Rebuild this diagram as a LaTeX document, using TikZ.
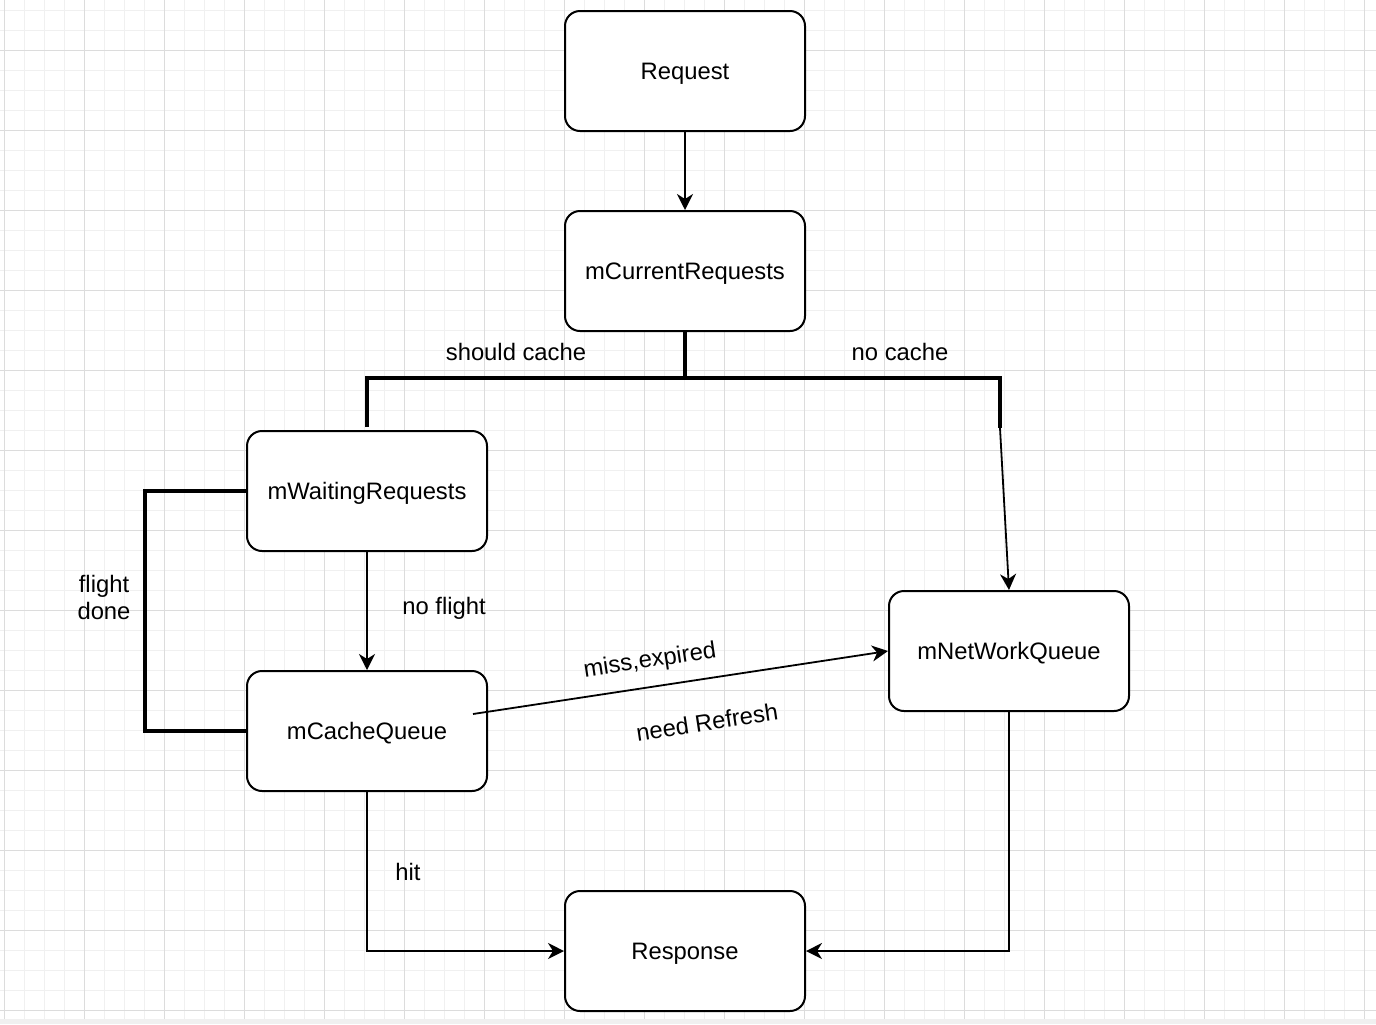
\documentclass[tikz,border=0pt]{standalone}
\usepackage{fontspec}
\setmainfont{Liberation Sans}
\usetikzlibrary{positioning,arrows.meta}
\definecolor{gridminor}{HTML}{F0F0F0}
\definecolor{gridmajor}{HTML}{DCDCDC}
\tikzset{
  box/.style={draw,line width=1pt,rounded corners=7.5pt,fill=white,minimum width=120pt,minimum height=60pt,inner sep=0pt,text depth=0pt},
  link/.style={line width=0.9pt,-{Stealth[length=8pt,width=8pt,inset=2.5pt]}},
  trunk/.style={line width=2pt},
}

\begin{document}
\begin{tikzpicture}[x=0.5pt,y=-0.5pt,font=\fontsize{11.9}{13.5}\selectfont]
\useasboundingbox (0,0) rectangle (1376,1024);
% grid
\foreach \k in {0,...,68} \draw[gridminor,line width=0.5pt] (4+20*\k,0) -- (4+20*\k,1024);
\foreach \k in {0,...,50} \draw[gridminor,line width=0.5pt] (0,10+20*\k) -- (1376,10+20*\k);
\foreach \k in {0,...,17} \draw[gridmajor,line width=0.5pt] (4+80*\k,0) -- (4+80*\k,1024);
\foreach \k in {0,...,12} \draw[gridmajor,line width=0.5pt] (0,50+80*\k) -- (1376,50+80*\k);
\fill[gray!12] (0,1019) rectangle (1376,1024);

\node[box] (req) at (685,71) {Request};
\node[box] (cur) at (685,271) {mCurrentRequests};
\node[box] (wait) at (367,491) {mWaitingRequests};
\node[box] (cache) at (367,731) {mCacheQueue};
\node[box] (net) at (1009,651) {mNetWorkQueue};
\node[box] (resp) at (685,951) {Response};

\coordinate (split) at (685,378);
\coordinate (knee) at (1000,428);
\coordinate (missfrom) at (473,714);

\draw[link] (req) -- (cur);
\draw[trunk] (cur) -- (split);
\draw[trunk] ([yshift=1.5pt]wait.north) |- (split) -| (knee);
\draw[link] (knee) -- (net.north);
\draw[link] (wait) -- (cache);
\draw[trunk] (wait.west) -- ++(-101,0) |- (cache.west);
\draw[link] (missfrom) -- (net.west);
\draw[link] (cache.south) |- (resp.west);
\draw[link] (net.south) |- (resp.east);

% labels
\node (shouldcache) at (516,352) {should cache};
\node (nocache) at (900,352) {no cache};
\node[align=center] (flightdone) at (104,597) {flight\\done};
\node (noflight) at (444,608) {no flight};
\node[rotate=8.6] (missexp) at (650,661) {miss,expired};
\node[rotate=8.6] (refresh) at (707,722) {need Refresh};
\node (hit) at (408,872) {hit};
\end{tikzpicture}
\end{document}
